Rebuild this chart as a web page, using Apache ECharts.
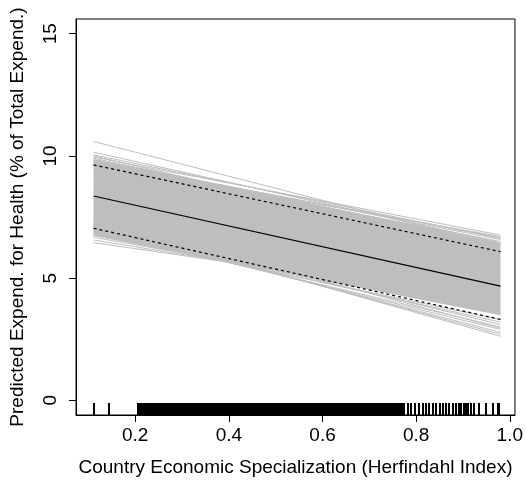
<!DOCTYPE html>
<html>
<head>
<meta charset="utf-8">
<script src="https://cdn.jsdelivr.net/npm/echarts@6/dist/echarts.min.js"></script>
<style>html,body{margin:0;padding:0;background:#fff}#c{width:526px;height:485px}</style>
</head>
<body>
<div id="c"></div>
<script>
// ---- data ----
const xTicks = [0.2, 0.4, 0.6, 0.8, 1.0];
const yTicks = [0, 5, 10, 15];
const xEnds = [0.111, 0.980];            // x range of the fitted lines
const meanFit = [8.36, 4.67];            // predicted value at the two ends
const upperCI = [9.63, 6.08];
const lowerCI = [7.04, 3.31];
const denseBandLow = [6.72, 3.48];       // solid grey region formed by the simulations
const denseBandHigh = [9.87, 6.45];
// simulated regression lines: value at left end / right end
const simStart = [10.59,10.15,10.04,9.95,9.84,9.90,9.78,9.72,9.70,9.65,9.82,10.00,
  6.45,6.56,6.67,6.76,6.83,7.30,7.20,7.10,7.00,6.95,7.15,6.90,7.40,6.80,
  9.50,9.20,9.00,8.80,8.50,8.20,8.00,7.80,7.50,7.20,9.40,8.60,8.30,7.90,7.60];
const simEnd = [6.31,6.45,6.62,6.76,6.58,6.40,6.66,6.50,6.30,6.70,6.20,6.10,
  4.05,3.85,3.70,3.55,3.60,2.62,2.70,2.78,2.90,3.00,3.10,3.20,2.95,3.30,
  6.00,5.60,5.20,5.00,4.70,4.50,4.20,4.00,3.80,3.60,5.20,5.40,5.00,4.60,4.30];
// rug of observed Herfindahl values
const rugValues = [0.111,0.143,0.206,0.209,
0.212,0.215,0.218,0.221,0.224,0.227,0.230,0.233,0.236,0.239,
0.242,0.245,0.248,0.251,0.254,0.257,0.260,0.263,0.266,0.269,
0.272,0.275,0.278,0.281,0.284,0.287,0.290,0.293,0.296,0.299,
0.302,0.305,0.308,0.311,0.314,0.317,0.320,0.323,0.326,0.329,
0.332,0.335,0.338,0.341,0.344,0.347,0.350,0.353,0.356,0.359,
0.362,0.365,0.368,0.371,0.374,0.377,0.380,0.383,0.386,0.389,
0.392,0.395,0.398,0.401,0.404,0.407,0.410,0.413,0.416,0.419,
0.422,0.425,0.428,0.431,0.434,0.437,0.440,0.443,0.446,0.449,
0.452,0.455,0.458,0.461,0.464,0.467,0.470,0.473,0.476,0.479,
0.482,0.485,0.488,0.491,0.494,0.497,0.500,0.503,0.506,0.509,
0.512,0.515,0.518,0.521,0.524,0.527,0.530,0.533,0.536,0.539,
0.542,0.545,0.548,0.551,0.554,0.557,0.560,0.563,0.566,0.569,
0.572,0.575,0.578,0.581,0.584,0.587,0.590,0.593,0.596,0.599,
0.602,0.605,0.608,0.611,0.614,0.617,0.620,0.623,0.626,0.629,
0.632,0.635,0.638,0.641,0.644,0.647,0.650,0.653,0.656,0.659,
0.662,0.665,0.668,0.671,0.674,0.677,0.680,0.683,0.686,0.689,
0.692,0.695,0.698,0.701,0.704,0.707,0.710,
0.714,0.717,0.721,0.724,0.727,0.731,0.734,0.738,0.741,0.744,0.748,0.751,0.754,0.757,0.761,0.764,0.767,0.771,0.774,
0.783,0.790,0.797,0.805,0.815,0.822,0.828,0.836,0.843,0.850,0.857,0.864,0.871,0.879,0.886,0.892,0.896,0.903,0.907,0.911,0.917,0.924,0.934,0.949,0.963,0.975,0.977];
const xLabel = 'Country Economic Specialization (Herfindahl Index)';
const yLabel = 'Predicted Expend. for Health (% of Total Expend.)';

// ---- chart ----
const X_MIN = 0.0735, X_MAX = 1.011, Y_MIN = -0.6, Y_MAX = 15.6;
const FONT = '"Liberation Sans", Arial, Helvetica, sans-serif';
const FS = 19;
const GREY = '#bebebe';
const chart = echarts.init(document.getElementById('c'), null, {renderer: 'canvas'});

const series = [];
// dense band
series.push({
  type: 'custom', silent: true, z: 1,
  data: [[xEnds[0], denseBandLow[0]], [xEnds[1], denseBandLow[1]], [xEnds[1], denseBandHigh[1]], [xEnds[0], denseBandHigh[0]]],
  renderItem: function (params, api) {
    if (params.dataIndex !== 0) return null;
    const pts = [
      api.coord([xEnds[0], denseBandLow[0]]), api.coord([xEnds[1], denseBandLow[1]]),
      api.coord([xEnds[1], denseBandHigh[1]]), api.coord([xEnds[0], denseBandHigh[0]])
    ];
    return {type: 'polygon', shape: {points: pts}, style: {fill: GREY}};
  }
});
for (let i = 0; i < simStart.length; i++) {
  series.push({
    type: 'line', silent: true, symbol: 'none', z: 2, animation: false,
    data: [[xEnds[0], simStart[i]], [xEnds[1], simEnd[i]]],
    lineStyle: {color: GREY, width: 1}
  });
}
series.push({type: 'line', silent: true, symbol: 'none', z: 5, data: [[xEnds[0], meanFit[0]], [xEnds[1], meanFit[1]]], lineStyle: {color: '#000', width: 1.2}});
series.push({type: 'line', silent: true, symbol: 'none', z: 5, data: [[xEnds[0], upperCI[0]], [xEnds[1], upperCI[1]]], lineStyle: {color: '#000', width: 1.2, type: [3, 3]}});
series.push({type: 'line', silent: true, symbol: 'none', z: 5, data: [[xEnds[0], lowerCI[0]], [xEnds[1], lowerCI[1]]], lineStyle: {color: '#000', width: 1.2, type: [3, 3]}});
// rug (pixel-aligned ticks so dense runs render solid)
series.push({
  type: 'custom', silent: true, z: 6,
  data: rugValues.map(v => [v]),
  renderItem: function (params, api) {
    const p = api.coord([api.value(0), Y_MIN]);
    const px = Math.round(p[0]);
    return {type: 'rect', shape: {x: px - 1, y: Math.round(p[1]) - 12, width: 2, height: 12}, style: {fill: '#000', stroke: null}};
  }
});

chart.setOption({
  animation: false,
  backgroundColor: '#fff',
  grid: {left: 73, right: 11, top: 19, bottom: 70, show: true, borderColor: '#000', borderWidth: 1, backgroundColor: 'transparent'},
  xAxis: {
    type: 'value', min: X_MIN, max: X_MAX,
    name: xLabel, nameLocation: 'middle', nameGap: 43,
    nameTextStyle: {fontFamily: FONT, fontSize: FS, color: '#000'},
    axisLine: {show: true, onZero: false, lineStyle: {color: '#000', width: 1}},
    axisTick: {show: true, inside: false, length: 7, customValues: xTicks, lineStyle: {color: '#000'}},
    axisLabel: {show: true, margin: 11, customValues: xTicks, fontFamily: FONT, fontSize: FS, color: '#000',
      formatter: v => v.toFixed(1)},
    splitLine: {show: false}
  },
  yAxis: {
    type: 'value', min: Y_MIN, max: Y_MAX,
    name: yLabel, nameLocation: 'middle', nameGap: 49, nameRotate: 90,
    nameTextStyle: {fontFamily: FONT, fontSize: FS, color: '#000'},
    axisLine: {show: true, onZero: false, lineStyle: {color: '#000', width: 1}},
    axisTick: {show: true, inside: false, length: 7, customValues: yTicks, lineStyle: {color: '#000'}},
    axisLabel: {show: true, margin: 16, rotate: 90, customValues: yTicks, fontFamily: FONT, fontSize: FS, color: '#000'},
    splitLine: {show: false}
  },
  series: series
});
</script>
</body>
</html>
